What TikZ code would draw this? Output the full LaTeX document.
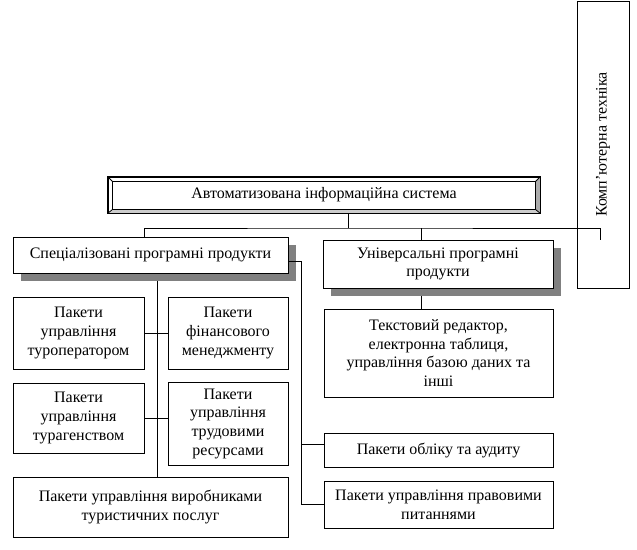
\documentclass[tikz,border=0pt]{standalone}
\usepackage{fontspec}
\setmainfont{Liberation Serif}
\usepackage{tikz}
\usetikzlibrary{positioning}
\usetikzlibrary{calc}
\usetikzlibrary{shadows}

\begin{document}
\begin{tikzpicture}[
		x=0.75pt, y=-0.75pt,
		line width=0.6pt,
		every node/.style = {
			font=\fontsize{12pt}{14pt}\selectfont
		},
		box/.style 2 args = {
			shape=rectangle,
			draw,
			fill=white,
			align=center,
			inner sep=0pt,
			minimum width=#1*0.75pt,
			minimum height=#2*0.75pt
		},
		shaded/.style = {
			drop shadow={shadow xshift=6pt, shadow yshift=-6pt, fill=gray, opacity=1}
		}
		]
		\useasboundingbox (0,0) rectangle (637,550);

		\node[box={432}{36}] (main) at (324,195) {Автоматизована інформаційна система};
		\fill[gray!40] (main.south west) -- (main.south east) -- ([shift={(-5,-4)}]main.south east) -- ([shift={(5,-4)}]main.south west) -- cycle;
		\fill[gray!65] (main.south east) -- (main.north east) -- ([shift={(-5,5)}]main.north east) -- ([shift={(-5,-4)}]main.south east) -- cycle;
		\draw ([shift={(5,5)}]main.north west) rectangle ([shift={(-5,-4)}]main.south east);
		\draw (main.north west) -- ([shift={(5,5)}]main.north west);
		\draw (main.north east) -- ([shift={(-5,5)}]main.north east);
		\draw (main.south west) -- ([shift={(5,-4)}]main.south west);
		\draw (main.south east) -- ([shift={(-5,-4)}]main.south east);
		\draw[line width=1pt] (main.north west) rectangle (main.south east);

		\node[box={275}{36}, shaded] (spec) at (150.5,255) {Спеціалізовані програмні продукти};
		\node[box={230}{48}, shaded] (univ) at (438,264) {Універсальні програмні\\продукти};
		\node[box={287}{52}, rotate=90] (komp) at (603,144.5) {Комп’ютерна техніка};

		\node[box={131}{72}] (turop) at (78.5,333) {Пакети\\управління\\туроператором};
		\node[box={120}{72}] (fin) at (228,333) {Пакети\\фінансового\\менеджменту};
		\node[box={131}{70}] (turag) at (78.5,418) {Пакети\\управління\\турагенством};
		\node[box={120}{83}] (trud) at (228,423.5) {Пакети\\управління\\трудовими\\ресурсами};
		\node[box={275}{60}] (prod) at (150.5,507) {Пакети управління виробниками\\туристичних послуг};

		\node[box={229}{88}] (editor) at (438.5,353) {Текстовий редактор,\\електронна таблиця,\\управління базою даних та\\інші};
		\node[box={229}{34}] (acc) at (438.5,450) {Пакети обліку та аудиту};
		\node[box={229}{47}] (legal) at (438.5,504.5) {Пакети управління правовими\\питаннями};

		\coordinate (bus) at (348,228);
		\coordinate (busend) at (600,240);
		\coordinate (slink) at (144,0);
		\coordinate (ulink) at (421,0);
		\coordinate (spine) at (157,0);
		\coordinate (rail) at (301,261);

		\draw (main.south -| bus) -- (bus);
		\draw (spec.north -| slink) |- (bus) -| (busend);
		\draw (univ.north -| ulink) -- (ulink |- bus);
		\draw ([yshift=-6pt]univ.south -| ulink) -- (editor.north -| ulink);
		\draw ([yshift=-6pt]spec.south -| spine) -- (prod.north -| spine);
		\draw (turop.east) -- (fin.west);
		\draw (turag.east) -- (turag.east -| trud.west);
		\draw (spec.east |- rail) -- (rail) |- ([yshift=4pt]acc.west);
		\draw (rail) |- (legal.west);
	\end{tikzpicture}
\end{document}
